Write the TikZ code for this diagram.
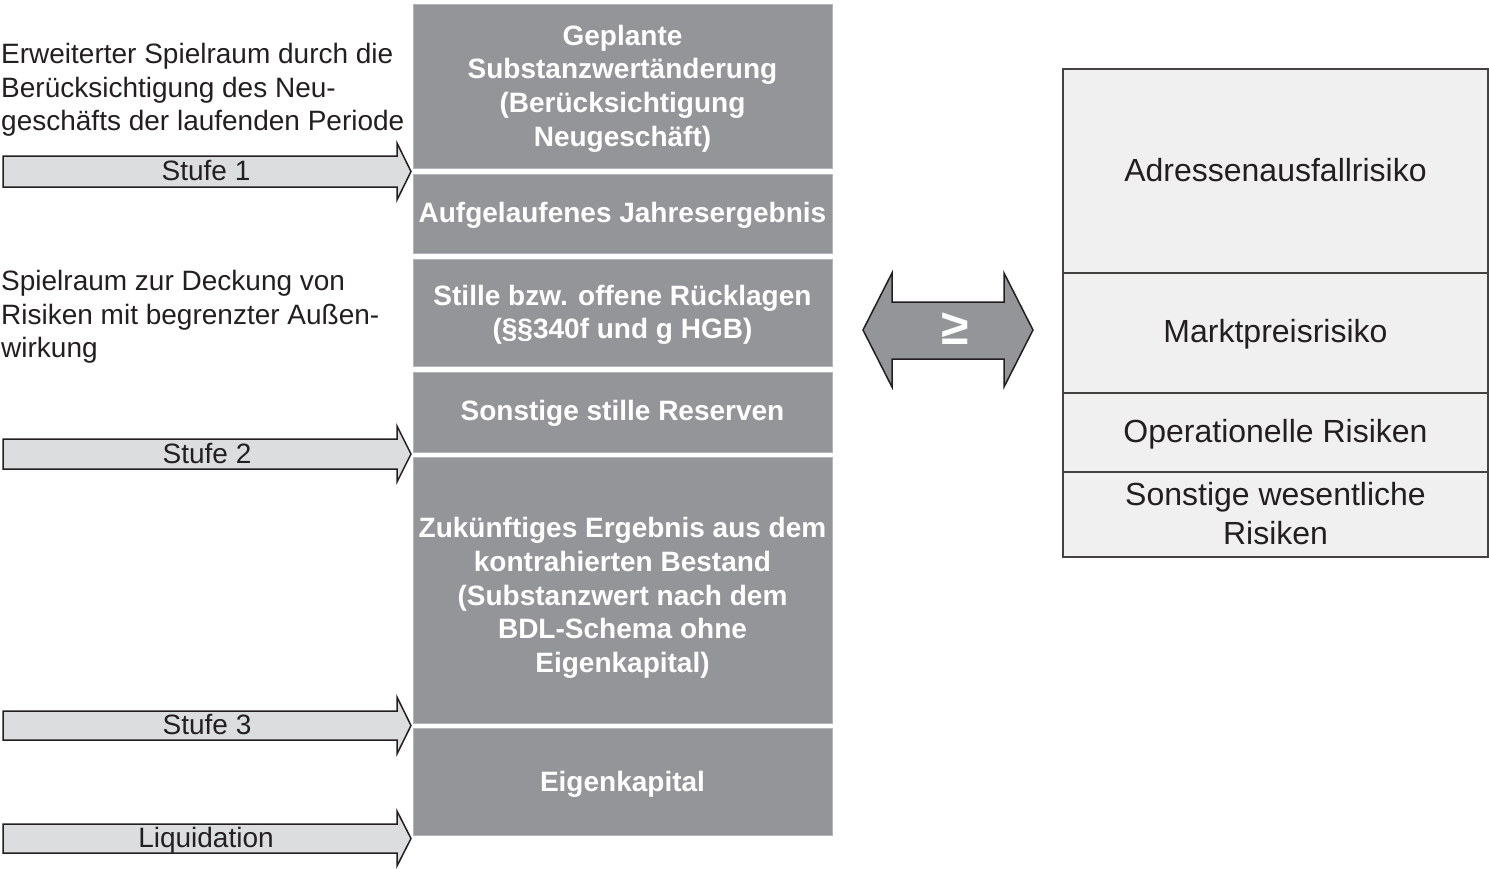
\documentclass[tikz,border=0pt]{standalone}
\usepackage{fontspec}
\setmainfont{Liberation Sans}
\definecolor{boxgray}{HTML}{939598}
\definecolor{arrowfill}{HTML}{DCDDDF}
\definecolor{riskfill}{HTML}{F0F0F0}
\definecolor{linedark}{HTML}{231F20}
\tikzset{
  gbox/.style={fill=boxgray, draw=boxgray!70!white, line width=0.8pt, minimum width=419pt, inner sep=0pt},
  gtext/.style={inner sep=0pt, text=white, font=\fontsize{28}{33.6}\selectfont\bfseries, align=center},
  rbox/.style={fill=riskfill, draw=linedark!85!white, line width=1.5pt, minimum width=425pt, inner sep=0pt},
  rtext/.style={inner sep=0pt, text=linedark, font=\fontsize{32}{38.4}\selectfont, align=center},
  stufearrow/.style={fill=arrowfill, draw=linedark, line width=1.5pt, line join=miter},
  stufelabel/.style={anchor=base, inner sep=0pt, text=linedark, font=\fontsize{28}{33.6}\selectfont},
  sidetext/.style={anchor=north west, inner sep=0pt, text=linedark, font=\fontsize{28}{33.6}\selectfont, align=left},
  dblarrow/.style={fill=boxgray, draw=linedark, line width=1.5pt, line join=miter}
}
\begin{document}
\begin{tikzpicture}[x=1pt,y=-1pt]
\useasboundingbox (0,0) rectangle (1489,868);

% left stack of capital components
\node[gbox, minimum height=164pt] (b1) at (622.5,86) {};
\node[gbox, minimum height=79pt] (b2) at (622.5,213.5) {};
\node[gbox, minimum height=107pt] (b3) at (622.5,312.5) {};
\node[gbox, minimum height=80pt] (b4) at (622.5,412) {};
\node[gbox, minimum height=266pt] (b5) at (622.5,590) {};
\node[gbox, minimum height=107pt] (b6) at (622.5,781.5) {};
\node[gtext] (b1t) at ([yshift=-2.5pt]b1.center) {Geplante\\Substanzwertänderung\\(Berücksichtigung\\Neugeschäft)};
\node[gtext] (b2t) at ([yshift=-2pt]b2.center) {Aufgelaufenes Jahresergebnis};
\node[gtext] (b3t) at ([yshift=-2.5pt]b3.center) {Stille bzw. offene Rücklagen\\(§§340f und g HGB)};
\node[gtext] (b4t) at ([yshift=-1pt]b4.center) {Sonstige stille Reserven};
\node[gtext] (b5t) at ([yshift=-8pt]b5.center) {Zukünftiges Ergebnis aus dem\\kontrahierten Bestand\\(Substanzwert nach dem\\BDL-Schema ohne\\Eigenkapital)};
\node[gtext] (b6t) at ([yshift=-3pt]b6.center) {Eigenkapital};

% right stack of risks
\node[rbox, minimum height=204pt] (r1) at (1275.5,171) {};
\node[rbox, minimum height=120pt] (r2) at (1275.5,333) {};
\node[rbox, minimum height=79pt] (r3) at (1275.5,432.5) {};
\node[rbox, minimum height=85pt] (r4) at (1275.5,514.5) {};
\node[rtext] (r1t) at ([yshift=1pt]r1.center) {Adressenausfallrisiko};
\node[rtext] (r2t) at ([yshift=-1pt]r2.center) {Marktpreisrisiko};
\node[rtext] (r3t) at ([yshift=-1.5pt]r3.center) {Operationelle Risiken};
\node[rtext] (r4t) at ([yshift=1pt]r4.center) {Sonstige wesentliche\\Risiken};

% double arrow
\draw[dblarrow] (863,330) -- (892,273) -- (892,302) -- (1004,302) -- (1004,273) -- (1033,330)
  -- (1004,387) -- (1004,359) -- (892,359) -- (892,387) -- cycle;
\node[text=white, font=\fontsize{50}{50}\selectfont\bfseries, inner sep=0pt] (geq) at (955,329) {≥};

% side texts
\node[sidetext] (t1) at (1,43) {Erweiterter Spielraum durch die\\Berücksichtigung des Neu-\\geschäfts der laufenden Periode};
\node[sidetext] (t2) at (1,270) {Spielraum zur Deckung von\\Risiken mit begrenzter Außen-\\wirkung};

% stage arrows
\draw[stufearrow] (3,156) -- (397,156) -- (397,143) -- (411,171.5) -- (397,200) -- (397,187) -- (3,187) -- cycle;
\node[stufelabel] (s1) at (206,180) {Stufe 1};
\draw[stufearrow] (3,439) -- (397,439) -- (397,426) -- (411,454) -- (397,482) -- (397,469) -- (3,469) -- cycle;
\node[stufelabel] (s2) at (207,463) {Stufe 2};
\draw[stufearrow] (3,711) -- (397,711) -- (397,697) -- (411,725.5) -- (397,754) -- (397,740) -- (3,740) -- cycle;
\node[stufelabel] (s3) at (207,734) {Stufe 3};
\draw[stufearrow] (3,824) -- (397,824) -- (397,811) -- (411,838.5) -- (397,866) -- (397,853) -- (3,853) -- cycle;
\node[stufelabel] (s4) at (206,847) {Liquidation};
\end{tikzpicture}
\end{document}
